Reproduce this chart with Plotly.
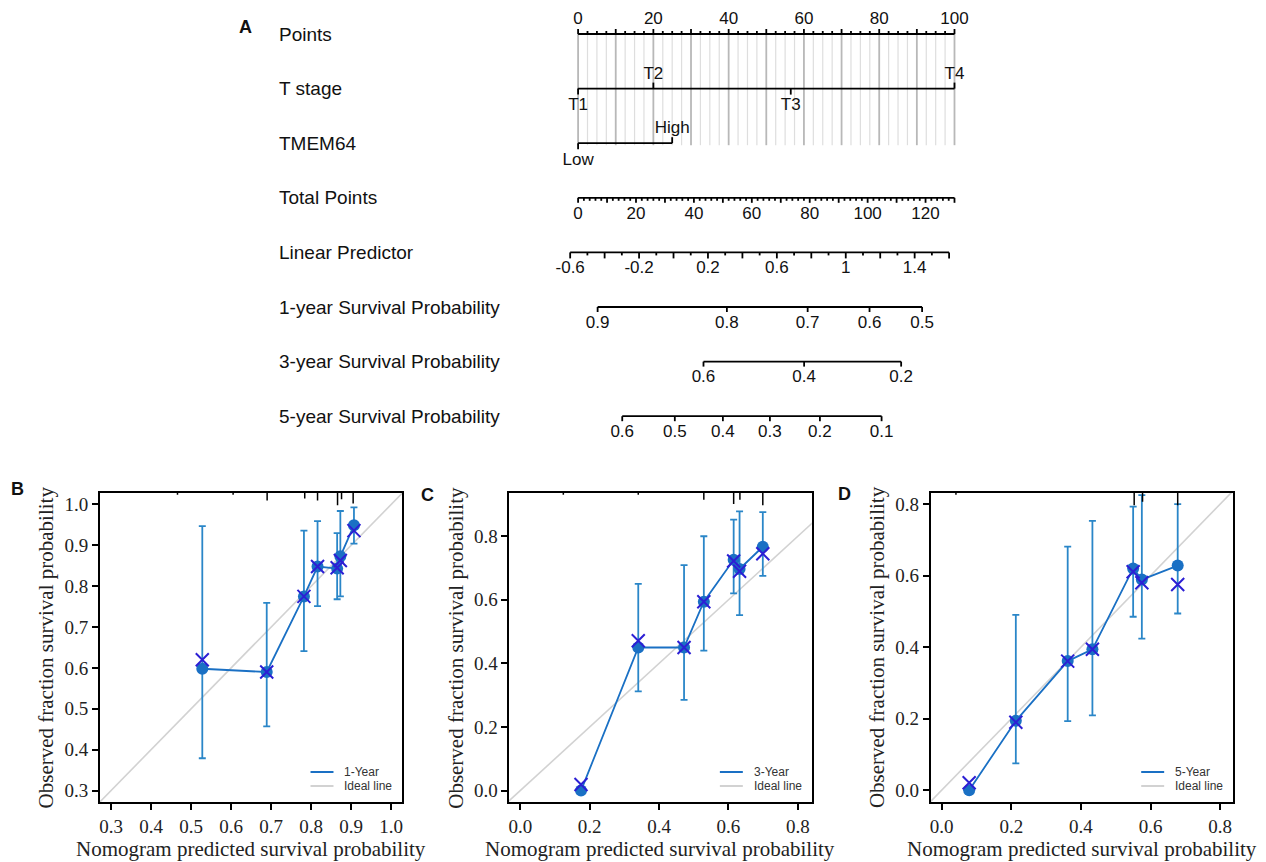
import numpy as np
import plotly.graph_objects as go

# ================= Panel A : nomogram data =================
points_labels = [0, 20, 40, 60, 80, 100]
t_stage_levels = ["T1", "T2", "T3", "T4"]
t_stage_points = [0, 20, 56.5, 100]
t_stage_side = ["below", "above", "below", "above"]
tmem64_levels = ["Low", "High"]
tmem64_points = [0, 25]
tmem64_side = ["below", "above"]
total_points_labels = [0, 20, 40, 60, 80, 100, 120]
total_points_max = 130
lp_labels = [-0.6, -0.2, 0.2, 0.6, 1.0, 1.4]
lp_min, lp_max = -0.6, 1.6
lp_at_zero_points = -0.554      # linear predictor when total points = 0
lp_per_point = 0.01681          # linear predictor per total point
surv1_labels = [0.9, 0.8, 0.7, 0.6, 0.5]
surv3_labels = [0.6, 0.4, 0.2]
surv5_labels = [0.6, 0.5, 0.4, 0.3, 0.2, 0.1]
baseline_surv_1y = 0.849
baseline_surv_3y = 0.651
baseline_surv_5y = 0.5026
row_names = ["Points", "T stage", "TMEM64", "Total Points", "Linear Predictor",
             "1-year Survival Probability", "3-year Survival Probability",
             "5-year Survival Probability"]

# ================= Panels B-D : calibration data =================
pred_1y = [0.528, 0.689, 0.782, 0.816, 0.865, 0.873, 0.907]
obs_1y = [0.598, 0.590, 0.775, 0.848, 0.843, 0.873, 0.949]
corr_1y = [0.620, 0.590, 0.775, 0.848, 0.845, 0.863, 0.936]
upper_1y = [0.947, 0.759, 0.936, 0.959, 0.930, 0.984, 0.993]
lower_1y = [0.379, 0.457, 0.641, 0.751, 0.768, 0.775, 0.904]
rug_1y = [0.466, 0.605, 0.690, 0.784, 0.816, 0.866, 0.876, 0.905]
rug_1y_h = [0.15, 0.15, 0.6, 0.45, 0.6, 1.0, 0.5, 0.85]

pred_3y = [0.175, 0.340, 0.472, 0.529, 0.615, 0.632, 0.699]
obs_3y = [0.0, 0.450, 0.450, 0.594, 0.726, 0.697, 0.767]
corr_3y = [0.019, 0.471, 0.450, 0.594, 0.722, 0.690, 0.745]
upper_3y = [0.0, 0.650, 0.709, 0.800, 0.852, 0.878, 0.876]
lower_3y = [0.0, 0.312, 0.285, 0.440, 0.620, 0.552, 0.675]
rug_3y = [0.124, 0.340, 0.529, 0.615, 0.633, 0.699]
rug_3y_h = [0.15, 0.15, 0.55, 0.9, 0.55, 1.0]

pred_5y = [0.079, 0.213, 0.362, 0.433, 0.550, 0.575, 0.678]
obs_5y = [0.0, 0.194, 0.361, 0.394, 0.620, 0.589, 0.628]
corr_5y = [0.021, 0.190, 0.361, 0.394, 0.611, 0.580, 0.575]
upper_5y = [0.0, 0.490, 0.681, 0.753, 0.793, 0.825, 0.800]
lower_5y = [0.0, 0.075, 0.193, 0.209, 0.485, 0.424, 0.494]
rug_5y = [0.041, 0.553, 0.577, 0.678]
rug_5y_h = [0.15, 1.0, 0.7, 1.0]

# ================= styling / page geometry =================
PAGE_W, PAGE_H = 1266, 862
OFF = 8                      # default page margin around the plot div
W, H = PAGE_W - OFF, PAGE_H - OFF
SANS = "Liberation Sans, Arial, sans-serif"
SERIF = "Liberation Serif, Times New Roman, serif"
BLUE = "#1a70c4"
ERR = "#2a86c8"
XCOL = "#2c1fd4"
IDEAL = "#d2d2d2"


def fx(p):  # page pixel x -> paper fraction
    return (p - OFF) / W


def fy(p):  # page pixel y -> paper fraction
    return 1 - (p - OFF) / H


fig = go.Figure()

# ---------------- nomogram scale helpers ----------------
def pos_total(tp):
    return np.asarray(tp, dtype=float) * 100.0 / total_points_max


def pos_lp(lp):
    return pos_total((np.asarray(lp, dtype=float) - lp_at_zero_points) / lp_per_point)


def pos_surv(s, s0):
    s = np.asarray(s, dtype=float)
    return pos_lp(np.log(np.log(s) / np.log(s0)))


row_y = [34 + 54.6 * i for i in range(8)]

lx, ly = [], []          # black axis lines
gx_min, gy_min = [], []  # light grid
gx_maj, gy_maj = [], []  # darker grid
tx, ty, tt = [], [], []  # tick labels


def seg(xs, ys, x0, y0, x1, y1):
    xs += [x0, x1, None]
    ys += [y0, y1, None]


# Points axis (ticks up, labels above)
y0 = row_y[0]
seg(lx, ly, 0, y0, 100, y0)
for v in np.arange(0, 100.01, 2.5):
    major = abs(v % 10) < 1e-9
    seg(lx, ly, v, y0, v, y0 - (5 if major else 3))
    if major:
        seg(gx_maj, gy_maj, v, y0, v, row_y[2] + 2)
    else:
        seg(gx_min, gy_min, v, y0, v, row_y[2] + 2)
for v in points_labels:
    tx.append(v); ty.append(y0 - 14); tt.append(str(v))


def factor_axis(row, pts, levels, sides):
    yy = row_y[row]
    seg(lx, ly, min(pts), yy, max(pts), yy)
    for p, lev, sd in zip(pts, levels, sides):
        d = -1 if sd == "above" else 1
        seg(lx, ly, p, yy, p, yy + 6 * d)
        tx.append(p); ty.append(yy + (-14 if d < 0 else 17.5)); tt.append(lev)


factor_axis(1, t_stage_points, t_stage_levels, t_stage_side)
factor_axis(2, tmem64_points, tmem64_levels, tmem64_side)

# Total points axis
yy = row_y[3]
seg(lx, ly, pos_total(0), yy, pos_total(total_points_max), yy)
for v in np.arange(0, total_points_max + 0.01, 2):
    major = abs(v % 10) < 1e-9
    p = float(pos_total(v))
    seg(lx, ly, p, yy, p, yy + (5 if major else 3))
for v in total_points_labels:
    tx.append(float(pos_total(v))); ty.append(yy + 16.5); tt.append(str(v))

# Linear predictor axis
yy = row_y[4]
seg(lx, ly, float(pos_lp(lp_min)), yy, float(pos_lp(lp_max)), yy)
for v in np.round(np.arange(lp_min, lp_max + 1e-9, 0.1), 1):
    major = abs(round(v * 10) % 2) == 0
    p = float(pos_lp(v))
    seg(lx, ly, p, yy, p, yy + (6 if major else 3))
for v in lp_labels:
    tx.append(float(pos_lp(v))); ty.append(yy + 16.5)
    tt.append(("%g" % v))


def surv_axis(row, labels, s0):
    yy = row_y[row]
    ps = pos_surv(labels, s0)
    seg(lx, ly, float(ps.min()), yy, float(ps.max()), yy)
    for p, v in zip(ps, labels):
        seg(lx, ly, float(p), yy, float(p), yy + 5)
        tx.append(float(p)); ty.append(yy + 16.5); tt.append("%g" % v)


surv_axis(5, surv1_labels, baseline_surv_1y)
surv_axis(6, surv3_labels, baseline_surv_3y)
surv_axis(7, surv5_labels, baseline_surv_5y)

fig.add_trace(go.Scatter(x=gx_min, y=gy_min, mode="lines", xaxis="x4", yaxis="y4",
                         line=dict(color="#dedede", width=1.2), hoverinfo="skip", showlegend=False))
fig.add_trace(go.Scatter(x=gx_maj, y=gy_maj, mode="lines", xaxis="x4", yaxis="y4",
                         line=dict(color="#b8b8b8", width=1.8), hoverinfo="skip", showlegend=False))
fig.add_trace(go.Scatter(x=lx, y=ly, mode="lines", xaxis="x4", yaxis="y4",
                         line=dict(color="black", width=1.8), hoverinfo="skip", showlegend=False))
fig.add_trace(go.Scatter(x=tx, y=ty, mode="text", text=tt, xaxis="x4", yaxis="y4",
                         textfont=dict(family=SANS, size=17, color="#111"),
                         textposition="middle center", hoverinfo="skip", showlegend=False))

annotations = []
for name, yy in zip(row_names, row_y):
    annotations.append(dict(x=fx(276), y=fy(yy), xref="paper", yref="paper", text=name,
                            showarrow=False, xanchor="left", yanchor="middle",
                            font=dict(family=SANS, size=19, color="#111")))

# ---------------- calibration panels ----------------
panels = [
    dict(ax="", pred=pred_1y, obs=obs_1y, corr=corr_1y, up=upper_1y, lo=lower_1y,
         rug=rug_1y, rugh=rug_1y_h, label="1-Year", letter="B",
         px=(99, 402), xr=[0.272, 1.028], yr=[0.272, 1.028],
         xt=[0.3, 0.4, 0.5, 0.6, 0.7, 0.8, 0.9, 1.0], yt=[0.3, 0.4, 0.5, 0.6, 0.7, 0.8, 0.9, 1.0],
         lpos=(17, 489)),
    dict(ax="2", pred=pred_3y, obs=obs_3y, corr=corr_3y, up=upper_3y, lo=lower_3y,
         rug=rug_3y, rugh=rug_3y_h, label="3-Year", letter="C",
         px=(509, 812), xr=[-0.032, 0.84], yr=[-0.036, 0.936],
         xt=[0.0, 0.2, 0.4, 0.6, 0.8], yt=[0.0, 0.2, 0.4, 0.6, 0.8],
         lpos=(427, 495)),
    dict(ax="3", pred=pred_5y, obs=obs_5y, corr=corr_5y, up=upper_5y, lo=lower_5y,
         rug=rug_5y, rugh=rug_5y_h, label="5-Year", letter="D",
         px=(931, 1234), xr=[-0.032, 0.837], yr=[-0.033, 0.831],
         xt=[0.0, 0.2, 0.4, 0.6, 0.8], yt=[0.0, 0.2, 0.4, 0.6, 0.8],
         lpos=(845, 494)),
]
ptop, pbot = 493, 802
ydom = [fy(pbot), fy(ptop)]
shapes = []
layout_axes = {}

for pn in panels:
    xa, ya = "x" + pn["ax"], "y" + pn["ax"]
    obs = np.array(pn["obs"]); up = np.array(pn["up"]); lo = np.array(pn["lo"])
    up_err = np.where(up > 0, up - obs, 0)
    lo_err = np.where(up > 0, obs - lo, 0)
    fig.add_trace(go.Scatter(x=[-0.2, 1.2], y=[-0.2, 1.2], mode="lines", xaxis=xa, yaxis=ya,
                             line=dict(color=IDEAL, width=1.6), hoverinfo="skip", showlegend=False))
    fig.add_trace(go.Scatter(x=pn["pred"], y=pn["obs"], mode="lines+markers", xaxis=xa, yaxis=ya,
                             line=dict(color=BLUE, width=1.8),
                             marker=dict(color=BLUE, size=12),
                             error_y=dict(type="data", symmetric=False, array=up_err,
                                          arrayminus=lo_err, color=ERR, thickness=1.8, width=3.5),
                             showlegend=False))
    fig.add_trace(go.Scatter(x=pn["pred"], y=pn["corr"], mode="markers", xaxis=xa, yaxis=ya,
                             marker=dict(symbol="x-thin", size=13, line=dict(color=XCOL, width=2)),
                             showlegend=False))
    for rx, rh in zip(pn["rug"], pn["rugh"]):
        shapes.append(dict(type="line", xref=xa, yref=ya + " domain", x0=rx, x1=rx,
                           y0=1, y1=1 - 0.04 * rh, line=dict(color="black", width=1.5)))
    x0p, x1p = pn["px"]
    xdom = [fx(x0p), fx(x1p)]
    common = dict(showline=True, mirror=True, linecolor="black", linewidth=1.5,
                  ticks="outside", ticklen=6, tickwidth=1.5, tickcolor="black",
                  showgrid=False, zeroline=False, tickformat=".1f",
                  tickfont=dict(family=SERIF, size=19, color="#222"))
    layout_axes["xaxis" + pn["ax"]] = dict(domain=xdom, range=pn["xr"], tickvals=pn["xt"],
                                          anchor=ya, **common)
    layout_axes["yaxis" + pn["ax"]] = dict(domain=ydom, range=pn["yr"], tickvals=pn["yt"],
                                          anchor=xa, **common)
    # legend (drawn manually, inside bottom right)
    for dy, col, txt in [(30, BLUE, pn["label"]), (16, IDEAL, "Ideal line")]:
        yl = fy(pbot - dy)
        shapes.append(dict(type="line", xref="paper", yref="paper",
                           x0=fx(x1p - 92), x1=fx(x1p - 69), y0=yl, y1=yl,
                           line=dict(color=col, width=2)))
        annotations.append(dict(x=fx(x1p - 60), y=yl, xref="paper", yref="paper", text=txt,
                                showarrow=False, xanchor="left", yanchor="middle",
                                font=dict(family=SANS, size=12, color="#333")))
    # axis titles
    annotations.append(dict(x=fx((x0p + x1p) / 2), y=fy(849), xref="paper", yref="paper",
                            text="Nomogram predicted survival probability", showarrow=False,
                            xanchor="center", yanchor="middle",
                            font=dict(family=SERIF, size=21, color="#222")))
    annotations.append(dict(x=fx(x0p - 54), y=fy((ptop + pbot) / 2), xref="paper",
                            yref="paper", text="Observed fraction survival probability",
                            showarrow=False, textangle=-90, xanchor="center", yanchor="middle",
                            font=dict(family=SERIF, size=21, color="#222")))
    annotations.append(dict(x=fx(pn["lpos"][0]), y=fy(pn["lpos"][1]), xref="paper",
                            yref="paper", text="<b>%s</b>" % pn["letter"], showarrow=False,
                            xanchor="center", yanchor="middle",
                            font=dict(family=SANS, size=18, color="#111")))

annotations.append(dict(x=fx(245), y=fy(27), xref="paper", yref="paper", text="<b>A</b>",
                        showarrow=False, xanchor="center", yanchor="middle",
                        font=dict(family=SANS, size=18, color="#111")))

# nomogram axes: x in "points" units, y in page pixels
PX_PER_POINT = 3.77
X_ORIGIN = 578
layout_axes["xaxis4"] = dict(domain=[0, 1],
                             range=[(OFF - X_ORIGIN) / PX_PER_POINT, (PAGE_W - X_ORIGIN) / PX_PER_POINT],
                             visible=False, anchor="y4")
layout_axes["yaxis4"] = dict(domain=[0, 1], range=[PAGE_H, OFF], visible=False, anchor="x4")

fig.update_layout(width=W, height=H, margin=dict(l=0, r=0, t=0, b=0),
                  paper_bgcolor="white", plot_bgcolor="rgba(0,0,0,0)",
                  showlegend=False, annotations=annotations, shapes=shapes, **layout_axes)

fig.write_html("out.html")
